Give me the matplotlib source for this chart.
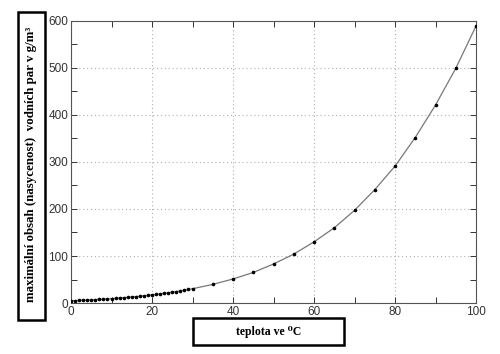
import matplotlib
matplotlib.use("Agg")
import matplotlib.pyplot as plt
from matplotlib.patches import Rectangle
from matplotlib.ticker import MultipleLocator

# teplota (°C) a nasycená vlhkost (g/m3)
teplota = [0, 1, 2, 3, 4, 5, 6, 7, 8, 9, 10, 11, 12, 13, 14, 15, 16, 17, 18, 19,
           20, 21, 22, 23, 24, 25, 26, 27, 28, 29, 30,
           35, 40, 45, 50, 55, 60, 65, 70, 75, 80, 85, 90, 95, 100]
obsah = [4.8, 5.2, 5.6, 5.9, 6.4, 6.8, 7.3, 7.8, 8.3, 8.8, 9.4, 10.0, 10.7, 11.4,
         12.1, 12.8, 13.6, 14.5, 15.4, 16.3, 17.3, 18.3, 19.4, 20.6, 21.8, 23.0,
         24.4, 25.8, 27.2, 28.8, 30.4,
         39.6, 51.1, 65.0, 83.0, 104.0, 130.0, 160.0, 197.0, 241.0, 291.0, 352.0,
         421.0, 499.0, 589.0]

xlabel = "teplota ve \u2070C"
ylabel = "maximální obsah (nasycenost)  vodních par v g/m\u00b3"

plt.rcParams['font.family'] = ['Liberation Sans', 'DejaVu Sans']

fig = plt.figure(figsize=(5, 3.54), dpi=100)
ax = fig.add_axes([0.142, 0.144, 0.81, 0.797])

ax.plot(teplota, obsah, color="#777777", lw=0.9, zorder=2)
ax.plot(teplota, obsah, ls="none", marker="o", ms=1.6, color="black", zorder=3)

ax.set_xlim(0, 100)
ax.set_ylim(0, 600)
ax.xaxis.set_major_locator(MultipleLocator(20))
ax.xaxis.set_minor_locator(MultipleLocator(10))
ax.yaxis.set_major_locator(MultipleLocator(100))
ax.yaxis.set_minor_locator(MultipleLocator(50))
ax.tick_params(which="both", direction="in", top=True, right=True,
               labelsize=8.5, colors="#333333", width=0.7)
ax.tick_params(which="major", length=4, pad=2)
ax.tick_params(which="minor", length=4)
ax.grid(True, which="major", ls=(0, (1, 2.5)), color="#b0b0b0", lw=0.8)
for s in ax.spines.values():
    s.set_color("#555555")
    s.set_linewidth(0.8)

# boxed axis labels
fig.patches.append(Rectangle((18 / 500, 1 - 320 / 354), 27 / 500, 308 / 354,
                             transform=fig.transFigure, fill=False,
                             edgecolor="black", lw=1.8))
fig.text(31.5 / 500, 1 - 164 / 354, ylabel, rotation=90, ha="center", va="center",
         family=["Liberation Serif", "DejaVu Serif"], weight="bold", fontsize=9.3)

fig.patches.append(Rectangle((193 / 500, 1 - 345 / 354), 151 / 500, 27 / 354,
                             transform=fig.transFigure, fill=False,
                             edgecolor="black", lw=1.8))
fig.text(268.5 / 500, 1 - 331.5 / 354, xlabel, ha="center", va="center",
         family=["Liberation Serif", "DejaVu Serif"], weight="bold", fontsize=8.5)

fig.savefig("out.png", dpi=100)
